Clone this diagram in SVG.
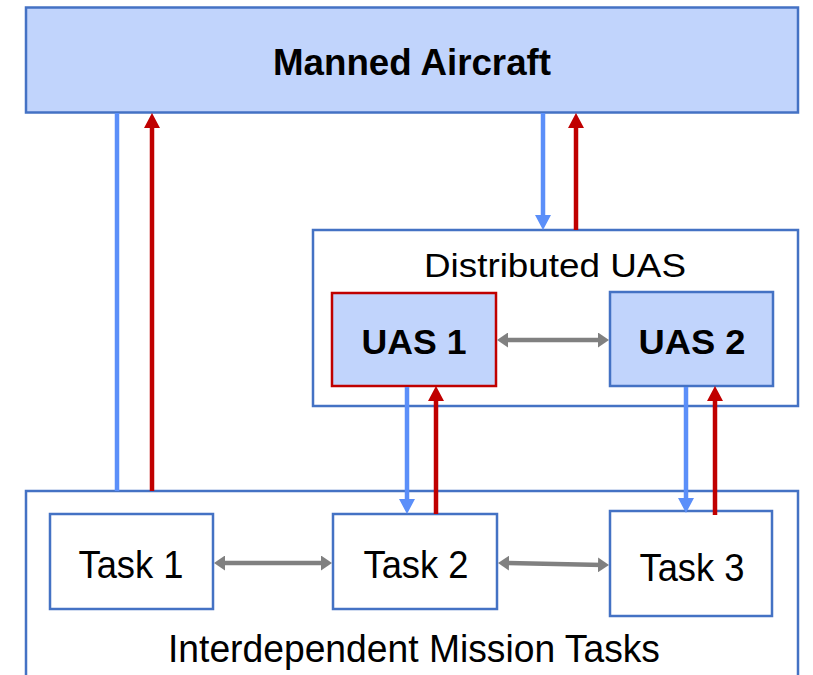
<svg xmlns="http://www.w3.org/2000/svg" width="813" height="675" viewBox="0 0 813 675">
<style>
.box{fill:#ffffff;stroke:#4472C4;stroke-width:2.5}
.fill{fill:#C1D4FC}
.red{stroke:#C00000}
.t{font-family:"Liberation Sans",Arial,sans-serif;fill:#000;text-anchor:middle}
.b{font-weight:bold}
.up{stroke:#C00000;stroke-width:4.5;fill:none;marker-end:url(#rh)}
.dn{stroke:#5B8FF9;stroke-width:4.5;fill:none;marker-end:url(#bh)}
.gr{stroke:#808080;stroke-width:4.5;fill:none;marker-start:url(#gh);marker-end:url(#gh)}
</style>
<defs>
<marker id="rh" markerUnits="userSpaceOnUse" viewBox="0 0 15 16" markerWidth="15" markerHeight="16" refX="7" refY="8" orient="auto"><path d="M0,0 L15,8 L0,16 z" fill="#C00000"/></marker>
<marker id="bh" markerUnits="userSpaceOnUse" viewBox="0 0 15 16" markerWidth="15" markerHeight="16" refX="7" refY="8" orient="auto"><path d="M0,0 L15,8 L0,16 z" fill="#5B8FF9"/></marker>
<marker id="gh" markerUnits="userSpaceOnUse" viewBox="0 0 11 15" markerWidth="11" markerHeight="15" refX="5" refY="7.5" orient="auto-start-reverse"><path d="M0,0 L11,7.5 L0,15 z" fill="#808080"/></marker>
</defs>

<g id="manned">
<rect class="box fill" x="26" y="7.5" width="772" height="105" stroke-width="3"/>
<text class="t b" x="412" y="75" font-size="37" textLength="278" lengthAdjust="spacingAndGlyphs">Manned Aircraft</text>
</g>

<g id="distributed">
<rect class="box" x="313" y="230" width="485" height="176"/>
<text class="t" x="555" y="277" font-size="34" textLength="262" lengthAdjust="spacingAndGlyphs">Distributed UAS</text>
</g>

<g id="uas1">
<rect class="box fill red" x="332" y="293" width="164" height="93"/>
<text class="t b" x="414" y="354" font-size="35" textLength="105" lengthAdjust="spacingAndGlyphs">UAS 1</text>
</g>

<g id="uas2">
<rect class="box fill" x="610" y="292" width="163" height="94"/>
<text class="t b" x="692" y="354" font-size="35" textLength="107" lengthAdjust="spacingAndGlyphs">UAS 2</text>
</g>

<g id="mission">
<rect class="box" x="26" y="491" width="772" height="200"/>
<text class="t" x="414" y="662" font-size="38" textLength="492" lengthAdjust="spacingAndGlyphs">Interdependent Mission Tasks</text>
</g>

<g id="task1">
<rect class="box" x="50" y="514" width="163" height="95"/>
<text class="t" x="131" y="578" font-size="38" textLength="105" lengthAdjust="spacingAndGlyphs">Task 1</text>
</g>

<g id="task2">
<rect class="box" x="333" y="514" width="164" height="95"/>
<text class="t" x="416" y="578" font-size="38" textLength="105" lengthAdjust="spacingAndGlyphs">Task 2</text>
</g>

<g id="task3">
<rect class="box" x="610" y="511" width="162" height="105"/>
<text class="t" x="692" y="581" font-size="38" textLength="105" lengthAdjust="spacingAndGlyphs">Task 3</text>
</g>

<g id="connectors">
<line x1="117" y1="113" x2="117" y2="491" stroke="#5B8FF9" stroke-width="4.5"/>
<line class="up" x1="152" y1="491" x2="152" y2="121"/>
<line class="dn" x1="543" y1="113" x2="543" y2="222"/>
<line class="up" x1="576" y1="230" x2="576" y2="121"/>
<line class="dn" x1="407" y1="387" x2="407" y2="506"/>
<line class="up" x1="436" y1="514" x2="436" y2="394"/>
<line class="dn" x1="686" y1="387" x2="686" y2="505"/>
<line class="up" x1="715" y1="515" x2="715" y2="394"/>
<line class="gr" x1="503" y1="340" x2="603" y2="340"/>
<line class="gr" x1="220" y1="563" x2="326" y2="563"/>
<line class="gr" x1="504" y1="563" x2="603" y2="565"/>
</g>
</svg>
